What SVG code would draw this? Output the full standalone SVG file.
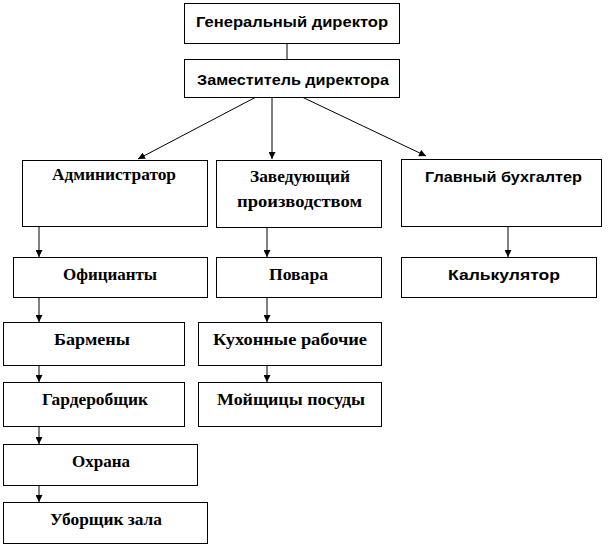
<svg xmlns="http://www.w3.org/2000/svg" width="611" height="547" viewBox="0 0 611 547">
<style>
.n rect{fill:#fff;stroke:#000;stroke-width:1}
.s{font-family:"Liberation Sans",Arial,sans-serif;font-weight:bold;font-size:15px;fill:#000;text-anchor:middle}
.t{font-family:"Liberation Serif","Times New Roman",serif;font-weight:bold;font-size:16px;fill:#000;text-anchor:middle}
.c line{stroke:#000;stroke-width:1}
</style>
<defs>
<marker id="a" viewBox="0 0 10 10" refX="10" refY="5" markerWidth="7" markerHeight="7" markerUnits="userSpaceOnUse" orient="auto">
<path d="M0,0L10,5L0,10z" fill="#000"/>
</marker>
</defs>
<rect width="611" height="547" fill="#fff"/>
<g class="c">
<line x1="287" y1="44" x2="287" y2="59" stroke="#555"/>
<line x1="256" y1="97" x2="138" y2="159" marker-end="url(#a)"/>
<line x1="272" y1="97" x2="272" y2="159" marker-end="url(#a)"/>
<line x1="302" y1="97" x2="426" y2="156" marker-end="url(#a)"/>
<line x1="39" y1="226" x2="39" y2="257" marker-end="url(#a)"/>
<line x1="267" y1="227" x2="267" y2="257" marker-end="url(#a)"/>
<line x1="508" y1="226" x2="508" y2="257" marker-end="url(#a)"/>
<line x1="39" y1="297" x2="39" y2="322" marker-end="url(#a)"/>
<line x1="267" y1="297" x2="267" y2="322" marker-end="url(#a)"/>
<line x1="39" y1="365" x2="39" y2="382" marker-end="url(#a)"/>
<line x1="267" y1="365" x2="267" y2="382" marker-end="url(#a)"/>
<line x1="39" y1="426" x2="39" y2="444" marker-end="url(#a)"/>
<line x1="39" y1="485" x2="39" y2="502" marker-end="url(#a)"/>
</g>
<g id="gen" class="n"><rect x="184.5" y="3.5" width="215" height="40"/><text class="s" x="292" y="27" textLength="192" lengthAdjust="spacingAndGlyphs">Генеральный директор</text></g>
<g id="zam" class="n"><rect x="184.5" y="59.5" width="215" height="38"/><text class="s" x="293" y="85" textLength="192" lengthAdjust="spacingAndGlyphs">Заместитель директора</text></g>
<g id="adm" class="n"><rect x="22.5" y="160.5" width="185" height="66"/><text class="t" x="114" y="180" textLength="124" lengthAdjust="spacingAndGlyphs">Администратор</text></g>
<g id="zav" class="n"><rect x="216.5" y="160.5" width="165" height="67"/><text class="t" x="300" y="182" textLength="100" lengthAdjust="spacingAndGlyphs">Заведующий</text><text class="t" x="299.5" y="207" textLength="125" lengthAdjust="spacingAndGlyphs">производством</text></g>
<g id="buh" class="n"><rect x="401.5" y="159.5" width="200" height="67"/><text class="s" x="503.5" y="182" textLength="157" lengthAdjust="spacingAndGlyphs">Главный бухгалтер</text></g>
<g id="ofi" class="n"><rect x="13.5" y="257.5" width="194" height="40"/><text class="t" x="110" y="280" textLength="94" lengthAdjust="spacingAndGlyphs">Официанты</text></g>
<g id="pov" class="n"><rect x="216.5" y="257.5" width="165" height="40"/><text class="t" x="298.5" y="280" textLength="59" lengthAdjust="spacingAndGlyphs">Повара</text></g>
<g id="kal" class="n"><rect x="401.5" y="257.5" width="195" height="40"/><text class="s" x="504" y="280" textLength="112" lengthAdjust="spacingAndGlyphs">Калькулятор</text></g>
<g id="bar" class="n"><rect x="3.5" y="322.5" width="181" height="43"/><text class="t" x="92" y="345" textLength="76" lengthAdjust="spacingAndGlyphs">Бармены</text></g>
<g id="kuh" class="n"><rect x="198.5" y="322.5" width="183" height="43"/><text class="t" x="290" y="345" textLength="154" lengthAdjust="spacingAndGlyphs">Кухонные рабочие</text></g>
<g id="gar" class="n"><rect x="3.5" y="382.5" width="181" height="44"/><text class="t" x="95" y="405" textLength="106" lengthAdjust="spacingAndGlyphs">Гардеробщик</text></g>
<g id="moy" class="n"><rect x="198.5" y="382.5" width="183" height="44"/><text class="t" x="291" y="405" textLength="148" lengthAdjust="spacingAndGlyphs">Мойщицы посуды</text></g>
<g id="ohr" class="n"><rect x="3.5" y="444.5" width="194" height="41"/><text class="t" x="101" y="467" textLength="58" lengthAdjust="spacingAndGlyphs">Охрана</text></g>
<g id="ubo" class="n"><rect x="3.5" y="502.5" width="204" height="41"/><text class="t" x="106" y="525" textLength="112" lengthAdjust="spacingAndGlyphs">Уборщик зала</text></g>
</svg>
